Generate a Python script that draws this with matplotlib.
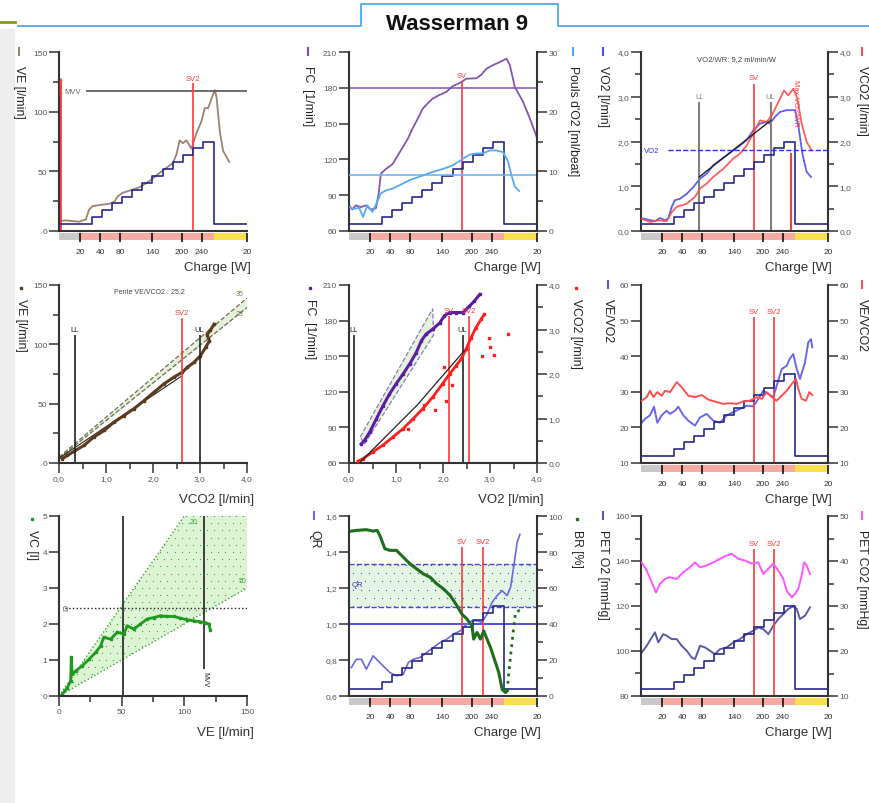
import numpy as np
import matplotlib.pyplot as plt
from matplotlib.lines import Line2D
from matplotlib.patches import Rectangle
from matplotlib.ticker import FuncFormatter, MultipleLocator

plt.rcParams['font.family'] = ['Liberation Sans', 'DejaVu Sans']

W, H = 869, 804

# ---- time axis (minutes) and load protocol ----
T_END = 18.7
load_t = [0, 3.3, 4.3, 5.3, 6.3, 7.3, 8.3, 9.3, 10.3, 11.3, 12.3, 13.3, 14.3, 15.4, 18.7]
load_w = [20, 40, 60, 80, 100, 120, 140, 160, 180, 200, 220, 240, 260, 20, 20]
charge_ticks = [2.1, 4.1, 6.1, 9.3, 12.2, 14.2, 18.7]
charge_labels = ['20', '40', '80', '140', '200', '240', '20']
phase_edges = [0, 2.1, 15.4, 18.7]
phase_colors = ['#c9c9c9', '#f6aaa3', '#f7e04c']
sv_t = 11.25
sv2_t = 13.3

# ---- panel 1 : VE ----
ve_t = [0, 0.67, 2.0, 2.67, 3.0, 3.33, 4.0, 5.0, 5.5, 5.83, 6.33, 7.33, 8.0, 8.67, 9.33, 10.0, 10.67,
        11.33, 11.67, 12.0, 12.33, 12.67, 13.17, 13.67, 14.17, 14.5, 14.83, 15.17, 15.5, 15.67, 16.0,
        16.33, 16.93]
ve = [8.3, 8.9, 7.8, 9.7, 18, 20.8, 21.7, 22.8, 24.4, 29, 32, 34.7, 36.7, 40, 44, 48.6, 52.8, 57, 64,
      76, 73.6, 76, 69, 82, 92, 103, 103, 111, 118, 112, 83, 67, 58]
mvv = 117

# ---- panel 2 : FC and O2 pulse ----
fc_t = [0, 0.33, 0.67, 1.17, 1.67, 2.17, 2.67, 2.93, 3.17, 3.67, 4.33, 4.83, 5.33, 5.83, 6.33, 6.83,
        7.33, 7.83, 8.33, 9.0, 9.67, 10.33, 11.0, 11.67, 12.67, 13.17, 13.67, 14.33, 15.0, 15.67, 16.0,
        16.5, 17.33, 18.0, 18.67]
fc = [81.5, 78, 81.5, 80, 81.5, 78, 79, 90, 108, 112, 116, 123, 130, 137, 146, 154, 162.5, 167, 171,
      174, 176.5, 181.5, 184, 187.6, 188, 191, 196, 199, 201.6, 204.4, 199, 180.6, 168, 154, 138.8]
po2_t = [0, 0.5, 1.0, 1.4, 1.83, 2.33, 2.73, 3.17, 3.67, 4.33, 5.0, 6.0, 6.67, 7.33, 8.33, 9.33, 10.33,
         11.33, 12.0, 12.67, 13.33, 14.0, 14.67, 15.33, 15.83, 16.17, 16.5, 16.93]
po2 = [4.0, 3.7, 3.9, 2.35, 4.3, 3.2, 4.6, 6.3, 6.8, 7.1, 7.65, 8.5, 8.9, 9.3, 9.9, 10.4, 11.0, 12.1,
       12.8, 13.0, 13.0, 13.5, 13.5, 13.2, 11.6, 9.3, 7.4, 6.7]
fc_ref = 180
po2_ref = 9.4

# ---- panel 3 : VO2 and VCO2 ----
vo2_t = [0, 0.57, 1.4, 1.9, 2.4, 2.73, 3.07, 3.4, 3.9, 4.57, 5.23, 5.9, 6.57, 7.23, 7.9, 8.57, 9.23,
         9.9, 10.57, 11.23, 11.9, 12.57, 12.9, 13.4, 13.9, 14.57, 15.4, 15.73, 16.17, 16.57, 17.0]
vo2 = [0.29, 0.26, 0.22, 0.29, 0.24, 0.28, 0.54, 0.69, 0.72, 0.83, 0.98, 1.17, 1.28, 1.47, 1.58, 1.69,
       1.80, 1.91, 2.03, 2.25, 2.40, 2.44, 2.40, 2.55, 2.66, 2.70, 2.70, 2.36, 1.69, 1.32, 1.21]
vco2_t = [0, 0.9, 1.73, 2.57, 3.07, 3.57, 4.57, 5.4, 5.9, 6.57, 7.23, 8.23, 9.23, 9.9, 10.57, 11.23,
          11.9, 12.57, 13.07, 13.73, 14.3, 14.73, 15.23, 15.63, 16.07, 16.57, 17.07]
vco2 = [0.28, 0.2, 0.24, 0.22, 0.42, 0.54, 0.61, 0.76, 0.95, 1.06, 1.21, 1.39, 1.62, 1.73, 1.91, 2.18,
        2.47, 2.44, 2.58, 2.88, 3.14, 3.03, 3.18, 2.96, 2.40, 1.99, 1.80]
ll_t, ul_t = 5.83, 12.97
fit3_t = [5.83, 12.97]
fit3_v = [1.21, 2.47]
vo2_ref = 1.8
max_t = 14.97

# ---- panel 4 : VE vs VCO2 ----
p4_vco2 = [0.07, 0.18, 0.32, 0.53, 0.74, 0.96, 1.17, 1.38, 1.59, 1.81, 2.02, 2.23, 2.44, 2.62, 2.73,
           2.87, 3.01, 3.12, 3.20, 3.15, 3.22, 3.30]
p4_ve = [3.6, 6.4, 9.8, 14.8, 21.8, 27.4, 34.4, 40.0, 45.6, 52.6, 59.6, 66.6, 72.2, 76.4, 80.6, 84.8,
         90.4, 97.4, 103.0, 108.0, 112.0, 117.0]
band4_x = [0.0, 4.0]
band4_lo = [4, 131]
band4_hi = [5, 139]
fit4_x = [0.0, 2.6]
fit4_y = [4, 73]

# ---- panel 5 : FC and VCO2 vs VO2 ----
p5_vo2_fc = [0.26, 0.33, 0.44, 0.58, 0.72, 0.86, 1.0, 1.15, 1.29, 1.43, 1.54, 1.64, 1.78, 1.93, 2.03,
             2.14, 2.28, 2.42, 2.56, 2.67, 2.78]
p5_fc = [76, 79, 86, 97, 108, 118, 126.6, 135, 143.4, 153, 163, 168.6, 172.8, 178, 184, 186.8, 186.8,
         186.8, 192, 196.6, 202]
p5_vo2_co2 = [0.19, 0.30, 0.51, 0.72, 0.93, 1.15, 1.36, 1.57, 1.78, 1.99, 2.14, 2.28, 2.39, 2.49, 2.60,
              2.70, 2.81, 2.88]
p5_vco2 = [0.04, 0.10, 0.25, 0.40, 0.58, 0.77, 0.99, 1.22, 1.48, 1.78, 2.0, 2.19, 2.34, 2.56, 2.82,
           3.04, 3.23, 3.34]
p5_out_vo2 = [3.38, 2.97, 2.99, 2.83, 3.09, 2.03, 2.07, 1.82, 1.25, 2.2, 1.6]
p5_out_vco2 = [2.90, 2.82, 2.60, 2.41, 2.43, 2.15, 1.40, 1.18, 0.77, 1.75, 1.30]
band5_x = [0.24, 1.78, 1.80, 0.33]
band5_y = [82, 190, 168, 76]
fit5_x = [0.22, 1.45, 2.45]
fit5_y = [0.0, 1.3, 2.52]

# ---- panel 6 : VE/VO2 and VE/VCO2 ----
veo2_t = [0.07, 0.4, 0.9, 1.3, 1.63, 2.07, 2.57, 2.9, 3.4, 3.73, 4.23, 4.73, 5.4, 5.9, 6.57, 7.23, 7.9,
          8.57, 9.23, 9.9, 10.57, 11.23, 11.73, 12.23, 12.73, 13.23, 13.57, 14.07, 14.57, 14.9, 15.23,
          15.57, 15.9, 16.4, 16.73, 17.0, 17.13]
veo2 = [21.3, 22.4, 23.4, 25.8, 21.3, 23.4, 24.7, 23.8, 24.7, 25.8, 23.4, 21.9, 20.5, 22.8, 23.8, 21.9,
        21.3, 23.4, 24.3, 25.2, 26.1, 25.9, 28.0, 30.3, 29.4, 28.5, 31.7, 36.4, 37.3, 39.4, 40.6, 36.4,
        33.6, 38.3, 43.9, 44.8, 42.5]
vevco2_t = [0.07, 0.57, 0.9, 1.23, 1.63, 2.07, 2.4, 2.9, 3.57, 4.07, 4.73, 5.4, 6.07, 6.73, 7.57, 8.23,
            8.9, 9.57, 10.23, 10.9, 11.57, 12.07, 12.57, 13.07, 13.57, 14.07, 14.57, 15.07, 15.5, 15.73,
            16.07, 16.5, 16.83, 17.13]
vevco2 = [27.5, 28.5, 30.3, 28.5, 29.9, 28.9, 30.3, 29.9, 32.7, 31.3, 28.9, 28.5, 29.1, 27.8, 27.1, 26.6,
          26.8, 26.6, 27.3, 27.5, 28.5, 28.0, 29.9, 28.5, 27.5, 28.9, 30.3, 32.2, 33.6, 30.8, 28.0, 27.5,
          29.9, 29.1]

# ---- panel 7 : VC vs VE ----
p7_ve = [2.7, 6.6, 9.3, 9.8, 10.6, 13.3, 18.6, 23.9, 29.2, 33.2, 35.8, 41.2, 46.5, 51.8, 54.4, 59.7,
         65.0, 70.4, 75.7, 81.0, 86.3, 91.6, 96.9, 102.2, 107.5, 112.8, 116.8, 119.5, 120.8]
p7_vc = [0.05, 0.23, 0.42, 1.07, 0.6, 0.70, 0.84, 1.02, 1.21, 1.39, 1.63, 1.58, 1.77, 1.72, 1.95, 1.86,
         2.0, 2.14, 2.18, 2.23, 2.21, 2.21, 2.16, 2.12, 2.09, 2.06, 2.04, 2.0, 1.83]
wedge_ve = [0, 100, 150, 150]
wedge_vc = [0, 5, 5, 3]
ci = 2.45
mvv_ve = 116

# ---- panel 8 : QR and BR ----
qr_t = [0.23, 0.73, 1.23, 1.73, 2.4, 2.9, 3.4, 4.07, 4.73, 5.4, 5.9, 6.4, 7.07, 7.73, 8.4, 9.07, 9.73,
        10.4, 11.07, 11.73, 12.23, 12.73, 13.23, 13.73, 14.23, 14.73, 15.23, 15.73, 16.07, 16.4, 16.73, 17.0]
qr = [0.758, 0.804, 0.804, 0.749, 0.823, 0.795, 0.767, 0.730, 0.712, 0.721, 0.786, 0.804, 0.814, 0.842,
      0.870, 0.897, 0.916, 0.944, 0.962, 1.0, 1.018, 1.018, 1.009, 1.055, 1.120, 1.158, 1.185, 1.158,
      1.204, 1.325, 1.455, 1.498]
br_t = [0.23, 0.73, 1.73, 2.4, 2.8, 3.07, 3.57, 4.07, 4.73, 5.4, 6.07, 6.73, 7.4, 8.07, 8.73, 9.4, 10.07,
        10.73, 11.23, 11.73, 12.23, 12.4, 12.73, 13.07, 13.4, 13.73, 14.07, 14.57, 14.9, 15.23, 15.57, 15.73]
br = [91.6, 92.0, 92.4, 91.6, 92.0, 89.2, 81.8, 80.9, 80.9, 77.1, 73.4, 70.6, 67.8, 66.0, 62.3, 59.5,
      55.8, 50.2, 45.5, 42.8, 39.0, 31.6, 35.3, 31.6, 36.2, 31.6, 27.0, 18.6, 13.0, 3.7, 1.9, 2.8]
br_rec_t = [15.73, 16.07, 16.4, 16.57, 16.9, 17.3]
br_rec = [2.8, 22.3, 39.0, 46.5, 47.4, 46.5]
qr_band = (1.093, 1.334)

# ---- panel 9 : PETO2 and PETCO2 ----
peto2_t = [0.07, 0.57, 1.07, 1.4, 1.73, 2.23, 2.57, 3.07, 3.57, 4.07, 4.57, 5.07, 5.4, 5.9, 6.4, 6.9,
           7.4, 7.9, 8.57, 9.23, 9.9, 10.57, 11.23, 11.73, 12.23, 12.73, 13.23, 13.73, 14.23, 14.73,
           15.23, 15.57, 15.9, 16.4, 16.9]
peto2 = [99.3, 102.3, 106.0, 108.3, 103.8, 107.5, 106.8, 105.3, 105.3, 102.3, 100.1, 97.1, 96.4, 102.3,
         101.6, 100.1, 98.6, 100.8, 101.6, 103.8, 105.3, 107.5, 109.0, 110.5, 109.7, 107.5, 111.2, 114.2,
         116.4, 118.7, 119.9, 118.7, 114.2, 115.7, 119.4]
petco2_t = [0.07, 0.57, 1.07, 1.5, 1.9, 2.4, 2.9, 3.57, 4.23, 4.9, 5.4, 5.9, 6.57, 7.23, 7.9, 8.57, 9.07,
            9.73, 10.4, 11.07, 11.73, 12.23, 12.73, 13.23, 13.73, 14.23, 14.57, 15.07, 15.4, 15.73,
            16.07, 16.3, 16.57, 16.9]
petco2 = [39.7, 37.9, 35.3, 33.0, 34.9, 36.0, 36.4, 36.0, 37.5, 38.6, 39.7, 38.6, 39.0, 39.7, 40.5, 41.2,
          41.6, 40.5, 40.1, 39.4, 39.7, 37.1, 38.3, 39.4, 37.9, 36.0, 33.4, 31.9, 32.7, 33.8, 36.8, 39.7,
          39.0, 37.1]

RED = '#ff3a3a'
LOAD_C = '#27278f'
SPINE_C = '#333333'
TICK_C = '#555555'
COLS = [(59, 247), (349, 537), (641, 828)]
ROWS = [(53, 232), (286, 464), (517, 697)]

fig = plt.figure(figsize=(W / 100, H / 100), dpi=100)


def rect(l, t, r, b):
    return [l / W, 1 - b / H, (r - l) / W, (b - t) / H]


comma = FuncFormatter(lambda v, p: f"{v:.1f}".replace('.', ','))


def style(ax):
    ax.tick_params(which='both', direction='out', colors=SPINE_C, labelcolor=TICK_C,
                   labelsize=6, width=1.1, pad=1.5)
    ax.tick_params(which='major', length=7)
    ax.tick_params(which='minor', length=4)


def make_ax(col, row):
    l, r = COLS[col]
    t, b = ROWS[row]
    ax = fig.add_axes(rect(l, t, r, b))
    for s in ax.spines.values():
        s.set_color(SPINE_C)
        s.set_linewidth(1.5)
    ax.spines['top'].set_visible(False)
    ax.spines['right'].set_visible(False)
    style(ax)
    return ax


def right_ax(ax):
    axr = ax.twinx()
    for k in ['left', 'top', 'bottom']:
        axr.spines[k].set_visible(False)
    axr.spines['right'].set_color(SPINE_C)
    axr.spines['right'].set_linewidth(1.5)
    style(axr)
    return axr


def time_axes(col, row):
    ax = make_ax(col, row)
    ax.set_xlim(0, T_END)
    ax.set_xticks([])
    l, r = COLS[col]
    b = ROWS[row][1]
    st = fig.add_axes(rect(l, b + 2, r, b + 11))
    st.set_xlim(0, T_END)
    st.set_ylim(0, 1)
    for x0, x1, c in zip(phase_edges[:-1], phase_edges[1:], phase_colors):
        st.axvspan(x0, x1, ymin=0.2, ymax=1, color=c, lw=0)
    for s in st.spines.values():
        s.set_visible(False)
    st.set_yticks([])
    st.set_xticks(charge_ticks, charge_labels)
    st.tick_params(axis='x', direction='in', length=6.5, width=1.1, color='black',
                   labelsize=6, labelcolor='#333333', pad=4)
    fig.text((r + 4) / W, 1 - (b + 36) / H, 'Charge [W]', ha='right', va='center',
             fontsize=9.5, color='#333333')
    axl = ax.twinx()
    axl.set_ylim(0, 520)
    axl.axis('off')
    axl.step(load_t, load_w, where='post', color=LOAD_C, lw=1.2)
    return ax


def xlabel(col, row, text):
    r = COLS[col][1]
    b = ROWS[row][1]
    fig.text((r + 7) / W, 1 - (b + 36) / H, text, ha='right', va='center', fontsize=9.5,
             color='#333333')


def side_label(col, row, side, text, color, mark='line', off=39):
    l, r = COLS[col]
    t = ROWS[row][0]
    x = l - off if side == 'left' else min(r + off, 862)
    if mark == 'line':
        fig.add_artist(Line2D([x / W, x / W], [1 - (t - 4) / H, 1 - (t + 3) / H], color=color, lw=1.5))
    else:
        fig.add_artist(Line2D([x / W], [1 - (t + 3) / H], marker='s', ms=2, color=color, lw=0))
    fig.text(x / W, 1 - (t + 13) / H, text, rotation=270, ha='center', va='top', fontsize=8.8,
             color='#222222')


def vmark(ax, x, y0, y1, text, color=RED, lw=1.2, dy=0):
    ax.vlines(x, y0, y1, color=color, lw=lw)
    if text:
        ax.text(x, y1 + dy, text, color=color, fontsize=5.5, ha='center', va='bottom')


def dot_texture(ax, patch, step_px, color):
    # fine dot pattern clipped to a filled area
    bb = ax.get_position()
    nx = int(bb.width * W / step_px) + 1
    ny = int(bb.height * H / step_px) + 1
    gx, gy = np.meshgrid(np.linspace(0, 1, nx), np.linspace(0, 1, ny))
    gx[1::2] += 0.5 / (nx - 1)
    dots = ax.scatter(gx.ravel(), gy.ravel(), s=0.8, color=color, lw=0, transform=ax.transAxes)
    dots.set_clip_path(patch)


# ---- header ----
fig.add_artist(Rectangle((0, 0), 15 / W, 1 - 30 / H, transform=fig.transFigure,
                         color='#eeeeee', lw=0, zorder=0))
fig.add_artist(Line2D([0, 15 / W], [1 - 23 / H] * 2, color='#8a9a2a', lw=2))
tab_x = [18, 361, 361, 558, 558, 869]
tab_y = [27, 27, 5, 5, 27, 27]
fig.add_artist(Line2D([v / W for v in tab_x], [1 - v / H for v in tab_y], color='#3ca2e6', lw=1.2))
fig.text(457 / W, 1 - 25 / H, 'Wasserman 9', ha='center', va='center', fontsize=16,
         fontweight='bold', color='#111111')

# ---- panel 1 ----
ax = time_axes(0, 0)
ax.set_ylim(0, 150)
ax.set_yticks([0, 50, 100, 150])
ax.yaxis.set_minor_locator(MultipleLocator(25))
ax.plot(ve_t, ve, color='#9d8272', lw=1.3)
ax.hlines(mvv, 2.7, T_END, color='#555555', lw=1.2)
ax.text(0.55, mvv, 'MVV', fontsize=5.5, color='#666666', va='center')
ax.vlines(0.05, 0, 128, color=RED, lw=2, clip_on=False)
ax.text(0.0, 128, 'Lactate', rotation=270, fontsize=4, color=RED, ha='center', va='top')
vmark(ax, sv2_t, 0, 124, 'SV2', dy=1)
side_label(0, 0, 'left', 'VE [l/min]', '#9d8272', off=40)

# ---- panel 2 ----
ax = time_axes(1, 0)
ax.set_ylim(60, 210)
ax.set_yticks([60, 90, 120, 150, 180, 210])
axr = right_ax(ax)
axr.set_ylim(0, 30)
axr.set_yticks([0, 10, 20, 30])
axr.yaxis.set_minor_locator(MultipleLocator(5))
ax.axhline(fc_ref, color='#8a5ec0', lw=1.2)
ax.plot(fc_t, fc, color='#8057b0', lw=1.3)
axr.axhline(po2_ref, color='#6ab8f2', lw=1.2)
axr.plot(po2_t, po2, color='#58aaf0', lw=1.3)
vmark(ax, sv_t, 60, 186, 'SV', dy=1)
side_label(1, 0, 'left', 'FC  [1/min]', '#7a4fb0', off=41)
side_label(1, 0, 'right', "Pouls d'O2 [ml/beat]", '#58aaf0', off=36)

# ---- panel 3 ----
ax = time_axes(2, 0)
ax.set_ylim(0, 4)
ax.set_yticks([0, 1, 2, 3, 4])
ax.yaxis.set_minor_locator(MultipleLocator(0.5))
ax.yaxis.set_major_formatter(comma)
axr = right_ax(ax)
axr.set_ylim(0, 4)
axr.set_yticks([0, 1, 2, 3, 4])
axr.yaxis.set_minor_locator(MultipleLocator(0.5))
axr.yaxis.set_major_formatter(comma)
ax.plot(vo2_t, vo2, color='#4c4cf5', lw=1.3, alpha=0.9)
axr.plot(vco2_t, vco2, color='#ff4c4c', lw=1.3, alpha=0.9)
axr.plot(fit3_t, fit3_v, color='#222222', lw=1)
vmark(ax, ll_t, 0, 2.88, 'LL', color='#808080', lw=1.5, dy=0.05)
vmark(ax, ul_t, 0, 2.88, 'UL', color='#808080', lw=1.5, dy=0.05)
vmark(ax, sv_t, 0, 3.29, 'SV', dy=0.06)
ax.vlines(max_t, 0, 1.75, color=RED, lw=1.5)
ax.text(max_t + 0.5, 3.4, 'Max VO2/WR', rotation=270, fontsize=5.5, color=RED, ha='center', va='top')
axr.hlines(vo2_ref, 2.7, T_END, color='#3030e0', lw=1, ls='--')
ax.text(0.3, vo2_ref, 'VO2', fontsize=5.5, color='#3030e0', va='center')
ax.text(0.51, 0.965, 'VO2/WR: 9,2 ml/min/W', transform=ax.transAxes, fontsize=5.5,
        color='#444444', ha='center', va='center')
side_label(2, 0, 'left', 'VO2 [l/min]', '#4c4cf5', off=38)
side_label(2, 0, 'right', 'VCO2 [l/min]', '#ff4c4c', off=38)

# ---- panel 4 ----
ax = make_ax(0, 1)
ax.set_xlim(0, 4)
ax.set_ylim(0, 150)
ax.set_xticks([0, 1, 2, 3, 4])
ax.xaxis.set_minor_locator(MultipleLocator(0.5))
ax.xaxis.set_major_formatter(comma)
ax.set_yticks([0, 50, 100, 150])
ax.yaxis.set_minor_locator(MultipleLocator(25))
ax.fill_between(band4_x, band4_lo, band4_hi, color='#e4f2dc', lw=0)
ax.plot(band4_x, band4_lo, color='#6e6e50', lw=0.9, ls='--')
ax.plot(band4_x, band4_hi, color='#6e6e50', lw=0.9, ls='--')
ax.text(3.85, 140, '35', fontsize=5, color='#7a7a50', ha='center', va='bottom')
ax.text(3.85, 129, '28', fontsize=5, color='#7a7a50', ha='center', va='top')
ax.plot(fit4_x, fit4_y, color='#222222', lw=0.8)
ax.plot(p4_vco2, p4_ve, color='#5c3a1e', lw=2.2, marker='s', ms=1.6)
vmark(ax, 0.33, 0, 108, 'LL', color='#222222', dy=1.5)
vmark(ax, 2.99, 0, 108, 'UL', color='#222222', dy=1.5)
vmark(ax, 2.62, 0, 122.6, 'SV2', dy=1.5)
ax.text(0.48, 0.97, 'Pente VE/VCO2 : 25,2', transform=ax.transAxes, fontsize=5,
        color='#444444', ha='center', va='center')
side_label(0, 1, 'left', 'VE [l/min]', '#5c3a1e', mark='dot', off=38)
xlabel(0, 1, 'VCO2 [l/min]')

# ---- panel 5 ----
ax = make_ax(1, 1)
ax.set_xlim(0, 4)
ax.set_ylim(60, 210)
ax.set_xticks([0, 1, 2, 3, 4])
ax.xaxis.set_minor_locator(MultipleLocator(0.5))
ax.xaxis.set_major_formatter(comma)
ax.set_yticks([60, 90, 120, 150, 180, 210])
axr = right_ax(ax)
axr.set_ylim(0, 4)
axr.set_yticks([0, 1, 2, 3, 4])
axr.yaxis.set_minor_locator(MultipleLocator(0.5))
axr.yaxis.set_major_formatter(comma)
ax.fill(band5_x, band5_y, facecolor='#e4f2dc', edgecolor='#8a7ac0', lw=0.9, ls='--')
ax.plot(p5_vo2_fc, p5_fc, color='#5a1ea0', lw=2.2, marker='s', ms=2)
axr.plot(p5_vo2_co2, p5_vco2, color='#ff1e1e', lw=2, marker='s', ms=1.8)
axr.plot(p5_out_vo2, p5_out_vco2, 's', color='#ff1e1e', ms=1.8)
axr.plot(fit5_x, fit5_y, color='#222222', lw=0.9)
vmark(ax, 0.10, 60, 168, 'LL', color='#222222', dy=1.5)
vmark(ax, 2.42, 60, 168, 'UL', color='#222222', dy=1.5)
vmark(ax, 2.13, 60, 184, 'SV', dy=1.5)
vmark(ax, 2.55, 60, 184, 'SV2', dy=1.5)
side_label(1, 1, 'left', 'FC  [1/min]', '#5a1ea0', mark='dot', off=39)
side_label(1, 1, 'right', 'VCO2 [l/min]', '#ff1e1e', mark='dot', off=39)
xlabel(1, 1, 'VO2 [l/min]')

# ---- panel 6 ----
ax = time_axes(2, 1)
ax.set_ylim(10, 60)
ax.set_yticks([10, 20, 30, 40, 50, 60])
axr = right_ax(ax)
axr.set_ylim(10, 60)
axr.set_yticks([10, 20, 30, 40, 50, 60])
ax.plot(veo2_t, veo2, color='#5858ee', lw=1.4, alpha=0.9)
axr.plot(vevco2_t, vevco2, color='#ff5050', lw=1.4)
vmark(ax, sv_t, 10, 50.9, 'SV', dy=0.6)
vmark(ax, sv2_t, 10, 50.9, 'SV2', dy=0.6)
side_label(2, 1, 'left', 'VE/VO2', '#5858ee', off=33)
side_label(2, 1, 'right', 'VE/VCO2', '#ff5050', off=38)

# ---- panel 7 ----
ax = make_ax(0, 2)
ax.set_xlim(0, 150)
ax.set_ylim(0, 5)
ax.set_xticks([0, 50, 100, 150])
ax.xaxis.set_minor_locator(MultipleLocator(25))
ax.set_yticks([0, 1, 2, 3, 4, 5])
wedge = ax.fill(wedge_ve, wedge_vc, facecolor='#dcf3d4', lw=0)[0]
dot_texture(ax, wedge, 7, '#3aa63a')
ax.plot(wedge_ve[:2], wedge_vc[:2], color='#3aa63a', lw=1, ls=':')
ax.plot([wedge_ve[0], wedge_ve[3]], [wedge_vc[0], wedge_vc[3]], color='#3aa63a', lw=1, ls=':')
ax.text(104, 4.85, '20', fontsize=5, color='#3aa63a', va='center')
ax.text(143, 3.2, '50', fontsize=5, color='#3aa63a', va='center')
ax.hlines(ci, 5, 150, color='#222222', lw=1, ls=':')
ax.text(3, ci, 'CI', rotation=270, fontsize=5, color='#444444', ha='center', va='center')
ax.vlines(51, 0, 5, color='#222222', lw=1.2)
ax.vlines(mvv_ve, 0.76, 5, color='#222222', lw=1.2)
ax.text(mvv_ve, 0.7, 'MVV', rotation=270, fontsize=5, color='#222222', ha='center', va='top')
ax.plot(p7_ve, p7_vc, color='#1f9a1f', lw=2, marker='s', ms=1.5)
side_label(0, 2, 'left', 'VC [l]', '#1f9a1f', mark='dot', off=27)
xlabel(0, 2, 'VE [l/min]')

# ---- panel 8 ----
ax = time_axes(1, 2)
ax.set_ylim(0.6, 1.6)
ax.set_yticks([0.6, 0.8, 1.0, 1.2, 1.4, 1.6])
ax.yaxis.set_major_formatter(comma)
axr = right_ax(ax)
axr.set_ylim(0, 100)
axr.set_yticks([0, 20, 40, 60, 80, 100])
axr.yaxis.set_minor_locator(MultipleLocator(10))
band = ax.axhspan(qr_band[0], qr_band[1], facecolor='#e4f5e4', lw=0)
dot_texture(ax, band, 8, '#4a4ad0')
ax.axhline(qr_band[0], color='#4a4ad0', lw=1, ls='--')
ax.axhline(qr_band[1], color='#4a4ad0', lw=1, ls='--')
ax.text(0.3, 1.22, 'QR', fontsize=5.5, color='#3030c0', va='center')
ax.axhline(1.0, color='#3434d0', lw=1.2)
ax.plot(qr_t, qr, color='#6a6ae0', lw=1.2)
axr.plot(br_t, br, color='#1e6e1e', lw=2.2)
axr.plot(br_rec_t, br_rec, color='#1e6e1e', lw=2, ls=':')
vmark(ax, sv_t, 0.6, 1.427, 'SV', dy=0.01)
vmark(ax, sv2_t, 0.6, 1.427, 'SV2', dy=0.01)
side_label(1, 2, 'left', 'QR', '#6a6ae0', off=35)
side_label(1, 2, 'right', 'BR [%]', '#1e6e1e', mark='dot', off=40)

# ---- panel 9 ----
ax = time_axes(2, 2)
ax.set_ylim(80, 160)
ax.set_yticks([80, 100, 120, 140, 160])
ax.yaxis.set_minor_locator(MultipleLocator(10))
axr = right_ax(ax)
axr.set_ylim(10, 50)
axr.set_yticks([10, 20, 30, 40, 50])
axr.yaxis.set_minor_locator(MultipleLocator(5))
ax.plot(peto2_t, peto2, color='#5b5ba5', lw=1.4)
axr.plot(petco2_t, petco2, color='#ff55ff', lw=1.4)
vmark(ax, sv_t, 80, 145.4, 'SV', dy=1)
vmark(ax, sv2_t, 80, 145.4, 'SV2', dy=1)
side_label(2, 2, 'left', 'PET O2 [mmHg]', '#5b5ba5', off=38)
side_label(2, 2, 'right', 'PET CO2 [mmHg]', '#ff55ff', off=38)

fig.savefig('out.png', dpi=100)
